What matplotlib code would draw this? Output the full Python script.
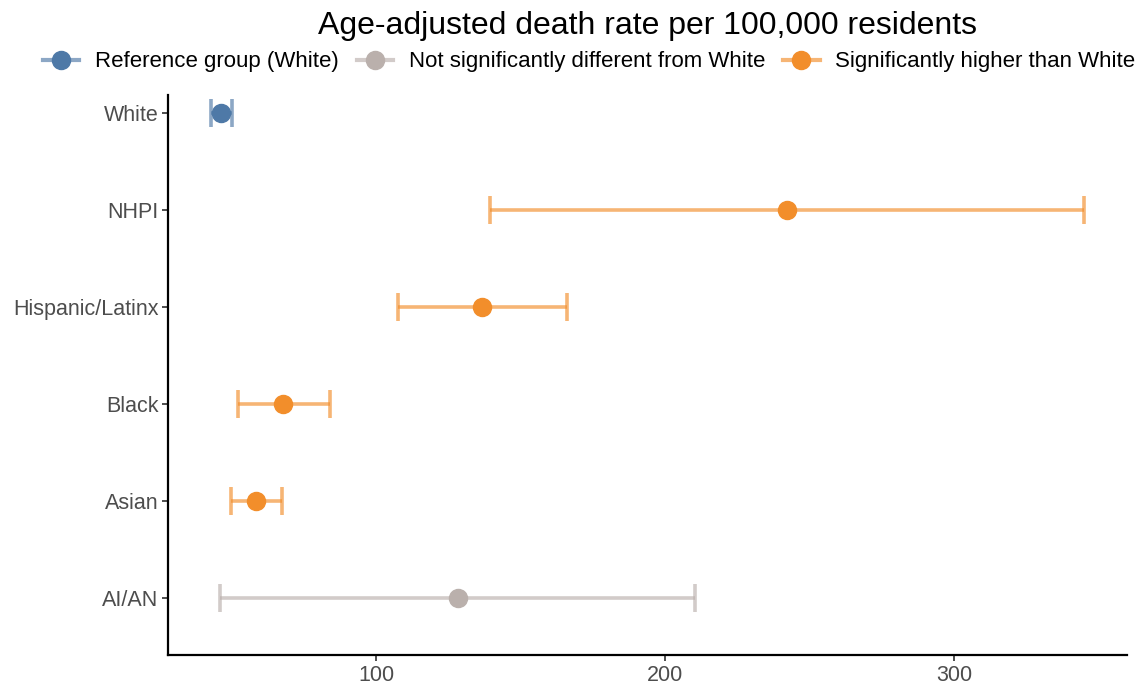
import matplotlib
matplotlib.use("Agg")
import matplotlib.pyplot as plt
from matplotlib.lines import Line2D

plt.rcParams['font.family'] = ['Liberation Sans', 'DejaVu Sans']

categories = ["White", "NHPI", "Hispanic/Latinx", "Black", "Asian", "AI/AN"]
rate = [46.4, 242.2, 136.7, 67.8, 58.5, 128.4]
lower = [43.0, 139.4, 107.6, 52.2, 49.8, 46.0]
upper = [50.0, 345.0, 166.1, 84.1, 67.5, 210.4]
group = ["ref", "high", "high", "high", "high", "ns"]

group_labels = {"ref": "Reference group (White)",
                "ns": "Not significantly different from White",
                "high": "Significantly higher than White"}
colors = {"ref": "#4E79A7", "ns": "#BAB0AC", "high": "#F28E2B"}
xticks = [100, 200, 300]

fig = plt.figure(figsize=(11.38, 6.88), dpi=100)
ax = fig.add_axes([168/1138, 1-655/688, (1127-168)/1138, (655-95)/688])

n = len(categories)
ypos = [n - i for i in range(n)]
for y, r, lo, hi, g in zip(ypos, rate, lower, upper, group):
    c = colors[g]
    ax.errorbar([r], [y], xerr=[[r - lo], [hi - r]], fmt='none', ecolor=c,
                alpha=0.65, elinewidth=2.6, capsize=10, capthick=2.6, zorder=2)
    ax.plot([r], [y], 'o', color=c, markersize=13, zorder=3)

ax.set_yticks(ypos)
ax.set_yticklabels(categories)
ax.set_xticks(xticks)
ax.set_xlim(28.0, 359.9)
ax.set_ylim(0.41, 6.19)
for s in ['top', 'right']:
    ax.spines[s].set_visible(False)
for s in ['left', 'bottom']:
    ax.spines[s].set_linewidth(1.6)
    ax.spines[s].set_color('black')
ax.tick_params(axis='both', labelsize=15.5, colors='#4D4D4D', length=4, width=1.4, pad=3)

fig.text(648/1138, 1 - 26/688, "Age-adjusted death rate per 100,000 residents",
         ha='center', va='center', fontsize=23, color='black')

handles = []
for g in ["ref", "ns", "high"]:
    ln = Line2D([0], [0], color=colors[g], linewidth=3, alpha=0.65)
    mk = Line2D([0], [0], color=colors[g], marker='o', markersize=13, linestyle='none')
    handles.append((ln, mk))
leg = fig.legend(handles=handles, labels=[group_labels[g] for g in ["ref", "ns", "high"]],
                 loc='center', bbox_to_anchor=(589/1138, 1 - 62/688),
                 ncol=3, frameon=False, fontsize=16, handlelength=1.65,
                 columnspacing=0.8, handletextpad=0.7, borderpad=0.2)

fig.savefig("out.png", dpi=100)
